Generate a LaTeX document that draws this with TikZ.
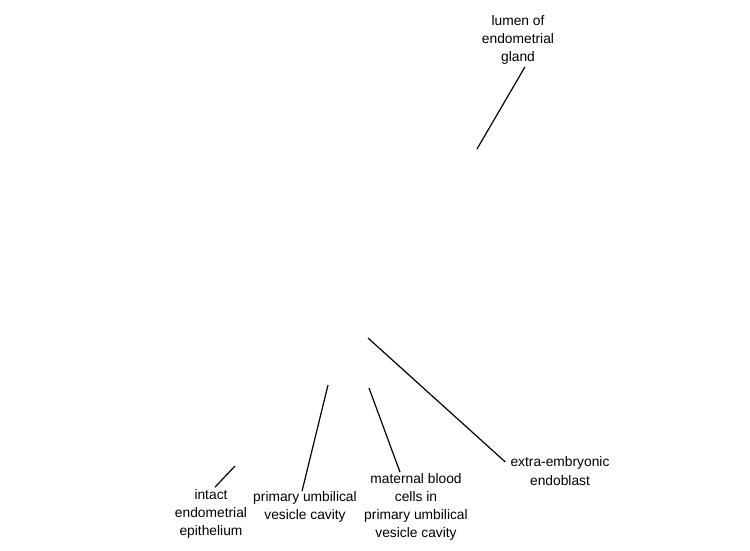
\documentclass[tikz,border=0pt]{standalone}
\usepackage{fontspec}
\setmainfont{Liberation Sans}
\usepackage{tikz}
\usetikzlibrary{calc}

\begin{document}
\begin{tikzpicture}[x=1pt, y=-1pt,
		lbl/.style={align=center, inner sep=0pt, font=\fontsize{13.8}{18.2}\selectfont},
		leader/.style={line width=1.2pt, color=black}]
			%%%%% START %%%%%
			
			\useasboundingbox[fill=white] (0, 0) rectangle (750, 550);
			
			\node[lbl] (lumen) at (518, 40) {lumen of\\endometrial\\gland};
			\node[lbl] (intact) at (211, 514) {intact\\endometrial\\epithelium};
			\node[lbl] (primary) at (305, 507) {primary umbilical\\vesicle cavity};
			\node[lbl] (maternal) at (416, 507) {maternal blood\\cells in\\primary umbilical\\vesicle cavity};
			\node[lbl] (extra) at (560, 471) {extra-embryonic\\endoblast};
			
			\coordinate (lumenpt) at (477, 149);
			\coordinate (intactpt) at (235, 466);
			\coordinate (primarypt) at (328, 385);
			\coordinate (maternalpt) at (369, 388);
			\coordinate (extrapt) at (368, 338);
			
			\draw[leader] ([shift={(7, 2)}]lumen.south) -- (lumenpt);
			\draw[leader] ([shift={(4, -2)}]intact.north) -- (intactpt);
			\draw[leader] ([shift={(-3, 0)}]primary.north) -- (primarypt);
			\draw[leader] ([shift={(-16, -1)}]maternal.north) -- (maternalpt);
			\draw[leader] ([shift={(-5, -9)}]extra.west) -- (extrapt);
			
			%%%%% END %%%%%
\end{tikzpicture}
\end{document}
